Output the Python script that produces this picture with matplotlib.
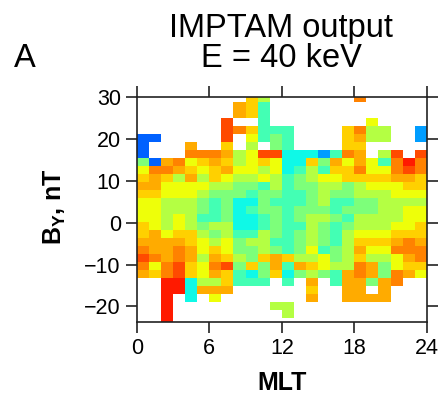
import numpy as np
import matplotlib
matplotlib.use("Agg")
import matplotlib.pyplot as plt

plt.rcParams['font.family'] = ['Liberation Sans', 'DejaVu Sans']
plt.rcParams['mathtext.fontset'] = 'custom'
plt.rcParams['mathtext.rm'] = 'Liberation Sans'
plt.rcParams['mathtext.bf'] = 'Liberation Sans:bold'

# --- data: MLT hour bins, IMF B_Y bins (top row first) ---
mlt_edges = np.arange(0, 25)
by_top = 30.7
by_step = 1.91

# colour level codes (jet scale 0..1)
levels = {'b': 0.22, 'B': 0.28, 'C': 0.37, 'A': 0.43, 'G': 0.50, 'L': 0.57,
          'Y': 0.64, 'D': 0.69, 'O': 0.73, 'K': 0.77, 'R': 0.83, 'X': 0.88}

rows = [
    ".........DL.......K.....",
    "........ODA.............",
    "........ODA.............",
    ".......R..A........Y....",
    ".......RKDAAA....DKLL..B",
    "bb.....R.YAGA....DOLL..B",
    "b...O..D.L.GA....DD.....",
    "b...KKKOLYRRCCCBAKO.LR.R",
    "GbOKYDODLYDYCCDGOYOYAKXK",
    "YKKODYDOYYLYCALADDKYYKRK",
    "DODLOLDYLLYLAGLYYDDDDOOD",
    "OOYYYYLLGGALAGGLLGLYYYDD",
    "DDYYYLGGGAGGAAGLGGLLLYYY",
    "YYLLLGAGCCGAAAGLAAGGLLLL",
    "YYLLLGAGCAGGAGGGAGGGLLYY",
    "YYLYLAAGCCAGAGLLGALLLLYY",
    "DYLYLGLLCCAGAALGAGLLLYYD",
    "DOYDDLGLAALGAGLGALYYYDDD",
    "OOOODYLYGLLAAGLGALDDDOKO",
    "KOOKOYDYGGLGAGYAGLOYYKKK",
    "RKOKOLODLGDODLLYGLDLLYOK",
    "KYKRDYKRGDGOAODYLLKOGYDD",
    "ODKRDYODACGDCGLGAOKOGKOY",
    "..XXCLLDAAA.A.O.AOOGOK..",
    "..XXCOOO......D..OO.O...",
    "..X.C.Y.......O..OOOO...",
    "..X........LL...........",
    "..X.........L...........",
    "..X.....................",
]

grid = np.array([[levels.get(ch, np.nan) for ch in r] for r in rows])
by_edges = by_top - by_step * np.arange(len(rows) + 1)

# flip so that B_Y increases upward
Z = np.ma.masked_invalid(grid[::-1])
by_edges = by_edges[::-1]

fig = plt.figure(figsize=(4.4, 3.97), dpi=100)
ax = fig.add_axes([0.311, 0.189, 0.659, 0.567])
ax.pcolormesh(mlt_edges, by_edges, Z, cmap='jet', vmin=0, vmax=1)

ax.set_xlim(0, 24)
ax.set_ylim(-23.7, 30)
ax.set_xticks([0, 6, 12, 18, 24])
ax.set_yticks([-20, -10, 0, 10, 20, 30])
ax.tick_params(direction='out', length=8, width=1.2, labelsize=15.5,
               top=True, right=True, colors='#222222', labelcolor='black')
for s in ax.spines.values():
    s.set_linewidth(1.2)
    s.set_color('#222222')

fig.text(0.639, 0.907, "IMPTAM output", ha='center', va='baseline', fontsize=23.5)
fig.text(0.639, 0.831, "E = 40 keV", ha='center', va='baseline', fontsize=23.5)
fig.text(0.057, 0.831, "A", ha='center', va='baseline', fontsize=23.5)
fig.text(0.641, 0.035, "MLT", ha='center', va='center', fontsize=18, fontweight='bold')
fig.text(0.125, 0.479, r"$\mathbf{B_Y}$, nT", ha='center', va='center',
         rotation=90, fontsize=18, fontweight='bold')

fig.savefig("out.png", dpi=100)
